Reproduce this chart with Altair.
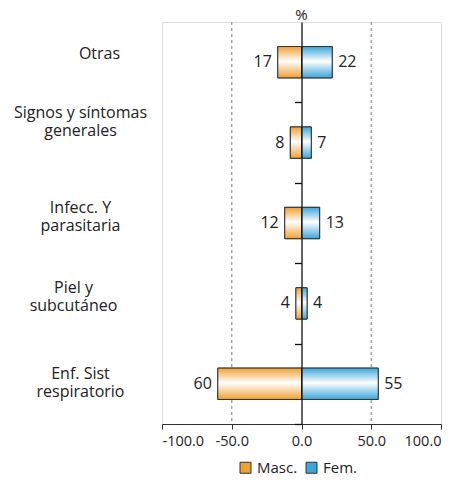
import altair as alt
import pandas as pd

categories = ["Otras", "Signos y síntomas\ngenerales", "Infecc. Y\nparasitaria",
              "Piel y\nsubcutáneo", "Enf. Sist\nrespiratorio"]
masc = [17, 8, 12, 4, 60]
fem = [22, 7, 13, 4, 55]
series = ["Masc.", "Fem."]
x_ticks = [-100, -50, 0, 50, 100]
grid_vals = [-50, 50]

ORANGE = "#F0A032"
BLUE = "#3AA6DA"
FONT = "Open Sans"

rows = []
for c, m, f in zip(categories, masc, fem):
    rows.append({"cat": c, "sexo": "Masc.", "val": m, "signed": -m})
    rows.append({"cat": c, "sexo": "Fem.", "val": f, "signed": f})
df = pd.DataFrame(rows)
grid_df = pd.DataFrame({"g": grid_vals})

xscale = alt.Scale(domain=[-100, 100], nice=False, zero=False)
yscale = alt.Scale(domain=categories, paddingInner=0.61, paddingOuter=0.305)

label_offset = {
    "condition": [
        {"test": "datum.value === 'Otras'", "value": -8},
        {"test": "indexof(datum.value, 'Signos') === 0", "value": -30},
        {"test": "indexof(datum.value, 'Infecc') === 0", "value": -15},
        {"test": "indexof(datum.value, 'Piel') === 0", "value": -15},
    ],
    "value": -10,
}
label_padding = {
    "condition": [
        {"test": "datum.value === 'Otras'", "value": 63},
        {"test": "indexof(datum.value, 'Piel') === 0", "value": 89},
    ],
    "value": 82,
}

x_enc = alt.X("signed:Q", scale=xscale,
              axis=alt.Axis(values=x_ticks, title=None, grid=False,
                            labelExpr="datum.value < 0 ? '-' + format(-datum.value, '.1f') : format(datum.value, '.1f')",
                            domainColor="#333", tickColor="#333", tickSize=5,
                            labelFontSize=14.5, labelColor="#222", labelPadding=5,
                            labelFont=FONT))
y_enc = alt.Y("cat:N", scale=yscale, sort=categories,
              axis=alt.Axis(title=None, orient="left", domain=False, ticks=False,
                            tickSize=0, labelAlign="center", labelBaseline="middle",
                            labelExpr="split(datum.value, '\\n')",
                            labelFontSize=16, labelColor="#222", labelFont=FONT,
                            labelLimit=300, labelLineHeight=18,
                            labelPadding=label_padding, labelOffset=label_offset))

grid = alt.Chart(grid_df).mark_rule(color="#999", strokeDash=[3, 3], strokeWidth=1.3).encode(
    x=alt.X("g:Q", scale=xscale)
)

base = alt.Chart(df)

plain = base.mark_bar(stroke="#333", strokeWidth=1).encode(
    x=x_enc, y=y_enc,
    color=alt.Color("sexo:N", scale=alt.Scale(domain=series, range=[ORANGE, BLUE]),
                    legend=alt.Legend(title=None, orient="none", direction="horizontal",
                                      legendX=76, legendY=438, padding=0,
                                      symbolType="square", symbolSize=121,
                                      symbolStrokeColor="#333", symbolStrokeWidth=1,
                                      labelFontSize=15, labelColor="#222", labelFont=FONT,
                                      columnPadding=6, labelOffset=4)),
)


def grad(col):
    return alt.Gradient(gradient="linear", x1=0, y1=0, x2=0, y2=1,
                        stops=[alt.GradientStop(color=col, offset=0),
                               alt.GradientStop(color="#ffffff", offset=0.47),
                               alt.GradientStop(color=col, offset=1)])


bar_m = base.transform_filter("datum.sexo === 'Masc.'").mark_bar(
    fill=grad(ORANGE), stroke="#333", strokeWidth=1).encode(x=x_enc, y=y_enc)
bar_f = base.transform_filter("datum.sexo === 'Fem.'").mark_bar(
    fill=grad(BLUE), stroke="#333", strokeWidth=1).encode(x=x_enc, y=y_enc)

txt_m = base.transform_filter("datum.sexo === 'Masc.'").mark_text(
    align="right", baseline="middle", dx=-6, fontSize=16, color="#222", font=FONT
).encode(x=x_enc, y=y_enc, text="val:Q")
txt_f = base.transform_filter("datum.sexo === 'Fem.'").mark_text(
    align="left", baseline="middle", dx=6, fontSize=16, color="#222", font=FONT
).encode(x=x_enc, y=y_enc, text="val:Q")

main = alt.layer(grid, plain, bar_m, bar_f, txt_m, txt_f)

zero_axis = alt.Chart(df).mark_point(opacity=0).encode(
    x=alt.X("signed:Q", scale=xscale),
    y=alt.Y("cat:N", sort=categories,
            scale=alt.Scale(domain=categories, paddingInner=0, paddingOuter=0),
            axis=alt.Axis(title=None, orient="left", labels=False, offset=-139.5,
                          values=categories[1:], tickBand="extent", tickExtra=False,
                          tickSize=7, tickColor="#111", domainColor="#111",
                          domainWidth=1.3, tickWidth=1.3, zindex=2)),
)

chart = alt.layer(main, zero_axis).resolve_scale(y="independent").properties(
    width=279, height=402,
    title=alt.TitleParams("%", fontSize=15, fontWeight="normal", color="#222",
                          font=FONT, anchor="middle", offset=2, dy=4),
    autosize=alt.AutoSizeParams(type="none"),
    padding={"left": 154, "top": 14, "right": 12, "bottom": 62},
).configure_view(stroke="#b5b5b5", strokeWidth=1).configure(font=FONT)

chart.save("out.html", embed_options={"renderer": "svg", "actions": False})
